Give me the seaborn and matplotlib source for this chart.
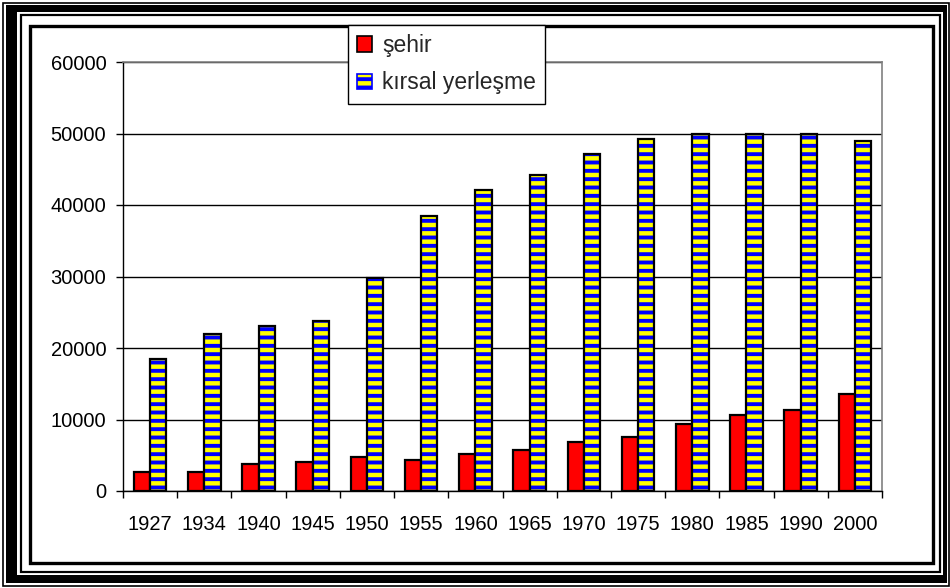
import seaborn as sns
import pandas as pd
import matplotlib.pyplot as plt
from matplotlib.patches import Rectangle, Patch
from matplotlib.ticker import FixedLocator

# veriler (grafikten okunan yaklaşık değerler)
yillar = ["1927", "1934", "1940", "1945", "1950", "1955", "1960",
          "1965", "1970", "1975", "1980", "1985", "1990", "2000"]
sehir = [2700, 2700, 3800, 4100, 4700, 4400, 5200,
         5800, 6800, 7600, 9400, 10600, 11300, 13600]
kirsal = [18500, 22000, 23100, 23800, 29800, 38500, 42100,
          44200, 47100, 49200, 50000, 50000, 50000, 48900]
seriler = ["şehir", "kırsal yerleşme"]

df = pd.DataFrame({
    "yil": yillar * 2,
    "nufus": sehir + kirsal,
    "tur": [seriler[0]] * len(yillar) + [seriler[1]] * len(yillar),
})

sns.set_style("white")
plt.rcParams["font.family"] = ["Liberation Sans", "DejaVu Sans"]
plt.rcParams["hatch.linewidth"] = 2.8

W, H = 950, 588
fig = plt.figure(figsize=(9.5, 5.88), dpi=100)
ax = fig.add_axes([123 / W, (H - 491) / H, (882 - 123) / W, (491 - 62) / H])

sns.barplot(data=df, x="yil", y="nufus", hue="tur", order=yillar,
            hue_order=seriler, palette=["#ff0000", "#ffff00"], width=0.6,
            edgecolor="black", linewidth=1.6, saturation=1, legend=False, ax=ax)

# kırsal çubuklar: sarı zemin üzerine mavi çizgiler
n = len(yillar)
for p in ax.patches[n:2 * n]:
    p.set_hatch("--")
    p.set_edgecolor("#0000ff")
    p.set_linewidth(0)
    ax.add_patch(Rectangle(p.get_xy(), p.get_width(), p.get_height(),
                           fill=False, edgecolor="black", linewidth=1.6, zorder=p.get_zorder() + 0.1))

ax.set_ylim(0, 60000)
ax.set_xlim(-0.5, n - 0.5)
ax.set_yticks(range(0, 60001, 10000))
ax.set_xlabel("")
ax.set_ylabel("")
ax.set_axisbelow(True)
ax.yaxis.grid(True, color="black", linewidth=1)

for s in ["top", "right"]:
    ax.spines[s].set_color("#808080")
    ax.spines[s].set_linewidth(1.2)
for s in ["left", "bottom"]:
    ax.spines[s].set_color("black")
    ax.spines[s].set_linewidth(1)

ax.tick_params(axis="y", left=True, length=5, width=1, pad=7, labelsize=14.5, colors="black")
ax.tick_params(axis="x", which="major", bottom=False, pad=14, labelsize=14.5, labelcolor="black")
ax.xaxis.set_minor_locator(FixedLocator([i - 0.5 for i in range(n + 1)]))
ax.tick_params(axis="x", which="minor", bottom=True, length=5, width=1, color="black")

# açıklama kutusu
handles = [Patch(facecolor="#ff0000", edgecolor="black", linewidth=1.2),
           Patch(facecolor="#ffff00", edgecolor="#0000ff", hatch="--", linewidth=1.2)]
leg = fig.legend(handles, seriler, loc="upper left", bbox_to_anchor=(348 / W, 1 - 25 / H),
                 fontsize=16.5, frameon=True, fancybox=False, framealpha=1,
                 handlelength=0.65, handleheight=0.65, handletextpad=0.45,
                 labelspacing=0.62, borderpad=0.4, borderaxespad=0)
leg.get_frame().set_edgecolor("black")
leg.get_frame().set_linewidth(1)


# çerçeve (eksenlerin arkasında)
def kutu(x0, y0, x1, y1, z, **kw):
    fig.add_artist(Rectangle((x0 / W, 1 - y1 / H), (x1 - x0) / W, (y1 - y0) / H,
                             transform=fig.transFigure, zorder=z, **kw))


kutu(2.5, 2.5, 948.5, 586, -3, fill=False, edgecolor="black", linewidth=1.2)
kutu(6, 5, 947, 583, -3, facecolor="black", edgecolor="none")
kutu(17, 12, 943, 575, -2, facecolor="white", edgecolor="none")
kutu(21, 15, 940, 572, -1, fill=False, edgecolor="black", linewidth=1.6)
kutu(30.5, 25.5, 933, 562.5, -1, fill=False, edgecolor="black", linewidth=2.4)

fig.savefig("out.png", dpi=100)
